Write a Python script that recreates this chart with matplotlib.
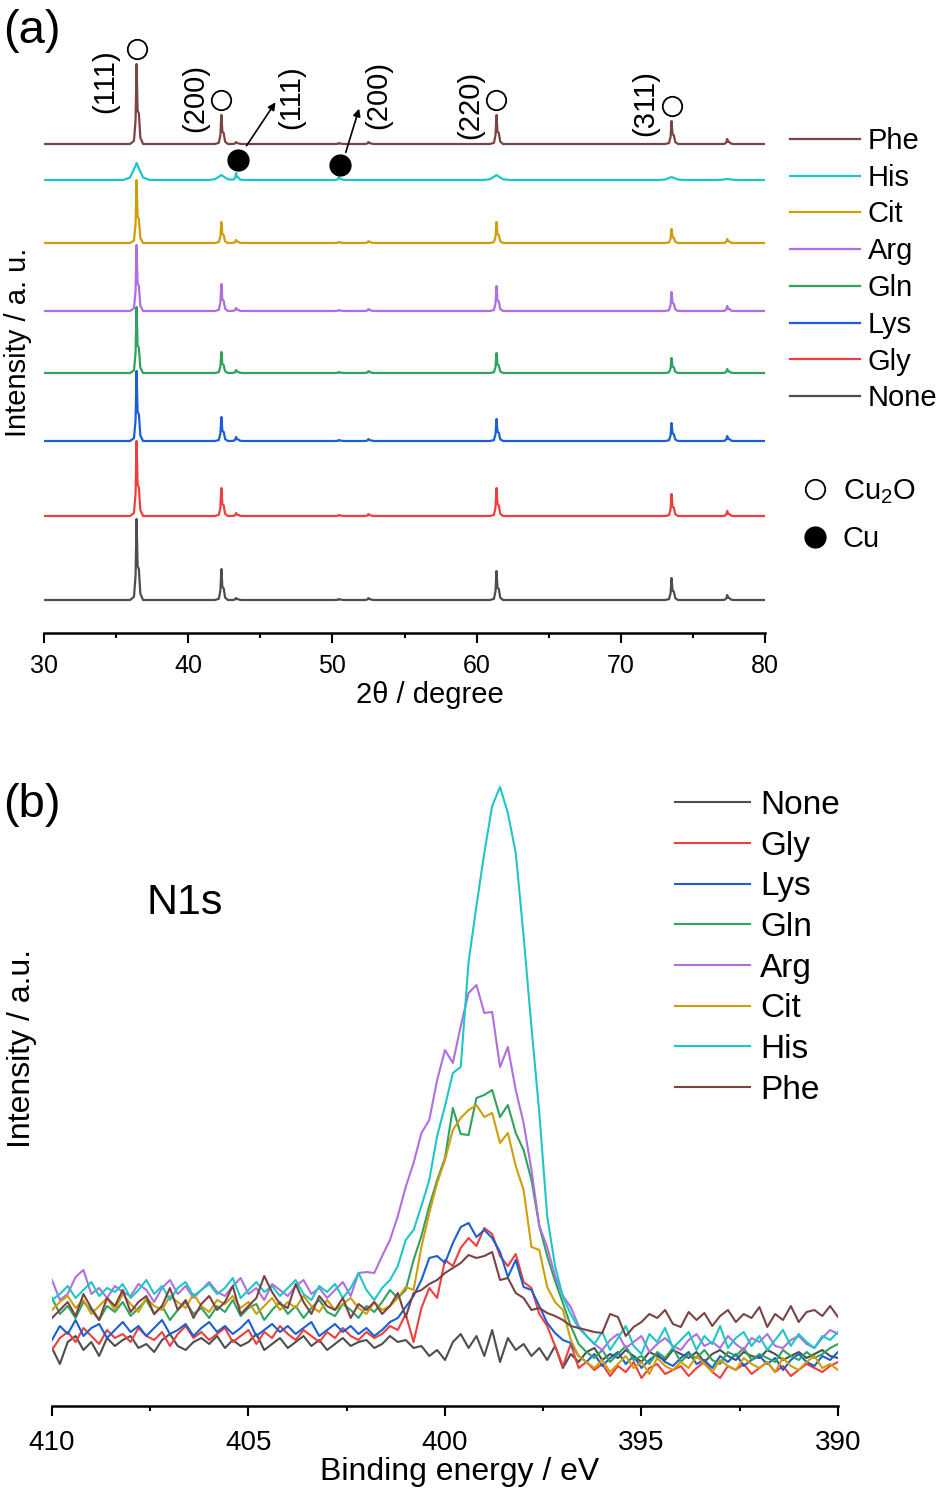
import matplotlib.pyplot as plt
import numpy as np
from matplotlib.lines import Line2D

plt.rcParams['font.family'] = ['Liberation Sans', 'DejaVu Sans']
plt.rcParams['mathtext.default'] = 'regular'

samples = ['None', 'Gly', 'Lys', 'Gln', 'Arg', 'Cit', 'His', 'Phe']
colors = ['#4e4e4e', '#ef3e3e', '#1b5fd4', '#2fa35e', '#b06fe0', '#d09d0b', '#1fc6c6', '#7a4444']

# ---- XRD (a): peak positions and heights ----
two_theta_peaks = [36.42, 42.30, 43.32, 50.45, 52.50, 61.38, 73.52, 77.38]
none_xrd = [81, 31, 2, 1, 2, 29, 22, 5]
gly_xrd = [75, 28, 3, 1, 2, 28, 22, 5]
lys_xrd = [70, 24, 4, 1, 2, 22, 18, 5]
gln_xrd = [66, 21, 3, 1, 2, 20, 15, 4]
arg_xrd = [66, 27, 3, 1, 2, 25, 19, 5]
cit_xrd = [63, 21, 3, 1, 2, 21, 14, 4]
his_xrd = [0, 0, 7, 3, 0, 0, 0, 0]
phe_xrd = [80, 29, 2, 1, 2, 29, 23, 5]
his_xrd_broad = [17, 5, 0, 0, 0, 5, 3, 1]
xrd_offsets = [33, 117, 192, 260, 322, 390, 453, 489]

# peak profiles (sharp with K-alpha2 shoulder, broad for His)
sharp_dx = [-0.45, -0.18, -0.07, 0.0, 0.07, 0.16, 0.26, 0.45]
sharp_frac = [0, 0.04, 0.3, 1, 0.42, 0.38, 0.08, 0]
broad_dx = [-0.9, -0.45, -0.2, 0.0, 0.2, 0.45, 0.9]
broad_frac = [0, 0.15, 0.6, 1, 0.6, 0.15, 0]

cu2o_peaks = [36.42, 42.30, 61.38, 73.52]
cu_marks_x = [43.45, 50.53]
cu_marks_y = [473, 468]
miller = ['(111)', '(200)', '(111)', '(200)', '(220)', '(311)']
miller_x = [34.23, 40.47, 47.13, 53.16, 59.54, 71.68]
miller_y = [552, 535, 536, 538, 528, 530]

# ---- XPS N1s (b): intensity every 0.2 eV from 410 to 390 eV ----
be = np.linspace(410, 390, 101)
none_xps = [58, 42, 64, 70, 56, 64, 50, 68, 60, 66,
            70, 58, 62, 54, 66, 72, 60, 56, 64, 68,
            62, 70, 58, 66, 60, 64, 72, 56, 62, 68,
            58, 64, 70, 60, 66, 56, 62, 68, 60, 64,
            66, 58, 62, 70, 64, 66, 58, 60, 50, 56,
            46, 64, 72, 58, 70, 50, 76, 44, 68, 56,
            62, 50, 58, 46, 60, 38, 52, 44, 54, 58,
            46, 52, 48, 56, 50, 44, 54, 50, 46, 56,
            52, 48, 54, 44, 52, 56, 50, 46, 54, 50,
            48, 56, 52, 46, 50, 54, 48, 52, 56, 50,
            48]
gly_xps = [56, 68, 74, 64, 78, 70, 62, 76, 68, 72,
           64, 78, 70, 66, 74, 60, 72, 80, 68, 74,
           66, 72, 78, 64, 70, 76, 62, 74, 68, 80,
           72, 66, 76, 70, 64, 74, 68, 78, 70, 66,
           74, 68, 72, 80, 76, 92, 64, 98, 118, 108,
           146, 140, 158, 168, 160, 178, 172, 150, 140, 152,
           124, 118, 92, 80, 60, 40, 62, 38, 44, 36,
           42, 30, 40, 34, 44, 28, 38, 42, 32, 36,
           40, 30, 38, 44, 34, 28, 40, 36, 42, 32,
           38, 44, 34, 40, 30, 36, 42, 38, 34, 40,
           44]
lys_xps = [66, 80, 72, 86, 70, 78, 82, 68, 76, 84,
           74, 80, 70, 78, 86, 72, 76, 82, 70, 78,
           84, 74, 80, 72, 78, 86, 70, 76, 82, 74,
           80, 72, 78, 84, 70, 76, 82, 74, 80, 72,
           78, 70, 76, 84, 88, 99, 110, 126, 148, 150,
           143, 163, 179, 183, 169, 176, 168, 154, 129, 146,
           119, 116, 100, 83, 73, 66, 63, 50, 44, 52,
           40, 48, 54, 42, 50, 38, 46, 52, 44, 40,
           48, 54, 42, 46, 38, 50, 44, 52, 40, 46,
           50, 42, 48, 36, 46, 52, 44, 40, 50, 46,
           54]
gln_xps = [108, 92, 100, 88, 104, 96, 86, 100, 94, 104,
           90, 98, 106, 92, 100, 86, 96, 104, 92, 98,
           88, 100, 94, 106, 90, 98, 102, 86, 96, 104,
           92, 100, 88, 98, 106, 94, 90, 102, 96, 88,
           100, 94, 104, 116, 108, 116, 146, 170, 200, 226,
           248, 298, 272, 271, 308, 311, 316, 289, 301, 273,
           256, 226, 180, 150, 125, 103, 80, 62, 54, 48,
           56, 44, 52, 60, 46, 50, 42, 54, 48, 58,
           44, 52, 48, 56, 46, 42, 54, 50, 58, 46,
           52, 48, 44, 56, 50, 46, 54, 48, 52, 58,
           62]
arg_xps = [126, 106, 112, 129, 136, 112, 118, 108, 120, 114,
           110, 122, 116, 104, 118, 126, 112, 120, 108, 116,
           124, 114, 110, 120, 128, 112, 118, 106, 122, 116,
           110, 120, 126, 112, 118, 108, 116, 124, 110, 133,
           134, 133, 150, 166, 190, 219, 243, 273, 286, 326,
           356, 343, 380, 413, 421, 393, 394, 339, 359, 316,
           283, 236, 180, 159, 130, 110, 99, 80, 70, 62,
           56, 66, 72, 58, 64, 70, 54, 62, 68, 60,
           56, 66, 72, 60, 64, 58, 70, 62, 56, 68,
           64, 72, 60, 58, 66, 70, 62, 58, 68, 76,
           72]
cit_xps = [96, 104, 110, 98, 106, 92, 100, 108, 96, 112,
           102, 94, 108, 100, 96, 110, 104, 98, 112, 100,
           94, 106, 102, 110, 98, 104, 92, 100, 108, 96,
           104, 98, 110, 100, 94, 106, 96, 102, 108, 98,
           92, 104, 96, 100, 108, 119, 116, 159, 193, 223,
           246, 276, 288, 296, 301, 289, 293, 263, 273, 240,
           216, 159, 156, 119, 104, 96, 66, 50, 44, 38,
           46, 34, 42, 50, 38, 44, 32, 48, 40, 36,
           44, 38, 50, 42, 34, 46, 40, 36, 48, 42,
           38, 44, 34, 48, 40, 36, 44, 50, 38, 42,
           36]
his_xps = [106, 112, 120, 108, 116, 124, 110, 118, 114, 122,
           108, 116, 126, 112, 120, 106, 118, 124, 110, 116,
           122, 112, 118, 128, 108, 116, 124, 114, 120, 110,
           118, 126, 112, 106, 120, 114, 122, 108, 118, 133,
           116, 106, 118, 126, 140, 166, 176, 200, 226, 270,
           300, 333, 339, 444, 500, 553, 600, 619, 593, 553,
           470, 379, 293, 190, 140, 109, 92, 78, 70, 62,
           74, 56, 68, 80, 60, 52, 72, 64, 78, 58,
           66, 74, 56, 70, 62, 80, 58, 68, 74, 60,
           70, 56, 66, 76, 60, 72, 64, 58, 70, 66,
           74]
phe_xps = [88, 96, 104, 90, 112, 98, 86, 108, 100, 116,
           94, 104, 110, 92, 100, 118, 96, 106, 88, 102,
           110, 96, 104, 120, 92, 100, 108, 130, 114, 102,
           98, 122, 104, 92, 110, 100, 96, 108, 88, 102,
           96, 104, 92, 100, 113, 89, 113, 116, 122, 126,
           133, 138, 143, 151, 148, 150, 154, 126, 128, 113,
           108, 96, 98, 93, 90, 86, 80, 78, 76, 74,
           73, 92, 89, 70, 79, 84, 92, 88, 96, 82,
           79, 94, 86, 93, 80, 90, 96, 84, 92, 88,
           99, 79, 92, 86, 100, 84, 94, 96, 90, 100,
           89]

xrd_sharp = [none_xrd, gly_xrd, lys_xrd, gln_xrd, arg_xrd, cit_xrd, his_xrd, phe_xrd]
xps_all = [none_xps, gly_xps, lys_xps, gln_xps, arg_xps, cit_xps, his_xps, phe_xps]


def xrd_trace(sharp, broad):
    parts = []
    for pos, h in zip(two_theta_peaks, sharp):
        if h:
            parts.append((pos + np.array(sharp_dx), h * np.array(sharp_frac)))
    for pos, h in zip(two_theta_peaks, broad):
        if h:
            parts.append((pos + np.array(broad_dx), h * np.array(broad_frac)))
    xs = np.unique(np.concatenate([[30.0, 80.0]] + [p[0] for p in parts]))
    ys = np.zeros_like(xs)
    for px, py in parts:
        ys += np.interp(xs, px, py, left=0, right=0)
    return xs, ys


W, H = 946, 1492
fig = plt.figure(figsize=(W / 100, H / 100), dpi=100)


def style_axis(ax, pad):
    for s in ['top', 'right', 'left']:
        ax.spines[s].set_visible(False)
    ax.spines['bottom'].set_linewidth(1.8)
    ax.set_yticks([])
    ax.tick_params(axis='x', which='major', direction='out', length=7, width=1.5, pad=pad)
    ax.tick_params(axis='x', which='minor', direction='out', length=3.5, width=1.5)


# ---------------- panel (a) ----------------
ax1 = fig.add_axes([44 / W, 1 - 633 / H, 721 / W, 603 / H])
lines_a = []
for i, name in enumerate(samples):
    broad = his_xrd_broad if name == 'His' else [0] * len(two_theta_peaks)
    xs, ys = xrd_trace(xrd_sharp[i], broad)
    ln, = ax1.plot(xs, ys + xrd_offsets[i], color=colors[i], lw=1.6, label=name)
    lines_a.append(ln)

phe_i = samples.index('Phe')
for pos in cu2o_peaks:
    h = phe_xrd[two_theta_peaks.index(pos)]
    ax1.plot(pos, xrd_offsets[phe_i] + h + 15, 'o', ms=14, mfc='white', mec='black', mew=1.3)
ax1.plot(cu_marks_x, cu_marks_y, 'o', ms=15, color='black', ls='none')
ax1.annotate('', xy=(46.16, 533), xytext=(43.94, 485),
             arrowprops=dict(arrowstyle='-|>', color='black', lw=1.2, mutation_scale=11))
ax1.annotate('', xy=(51.91, 527), xytext=(50.87, 478),
             arrowprops=dict(arrowstyle='-|>', color='black', lw=1.2, mutation_scale=11))
for t, x, y in zip(miller, miller_x, miller_y):
    ax1.text(x, y, t, rotation=90, ha='center', va='center', fontsize=21)

ax1.set_xlim(30, 80)
ax1.set_ylim(0, 603)
ax1.set_xticks([30, 40, 50, 60, 70, 80])
ax1.set_xticks([35, 45, 55, 65, 75], minor=True)
style_axis(ax1, 8)
ax1.tick_params(axis='x', labelsize=18)

leg1 = ax1.legend(handles=lines_a[::-1], loc='upper left', bbox_to_anchor=(790 / W, 1 - 127 / H),
                  bbox_transform=fig.transFigure, frameon=False, fontsize=21,
                  handlelength=2.4, handletextpad=0.27, labelspacing=0.3,
                  borderpad=0, borderaxespad=0)
ax1.add_artist(leg1)
marker_handles = [Line2D([], [], marker='o', ls='none', ms=14, mfc='white', mec='black', mew=1.3),
                  Line2D([], [], marker='o', ls='none', ms=15, color='black')]
ax1.legend(handles=marker_handles, labels=['Cu$_2$O', 'Cu'], loc='upper left',
           bbox_to_anchor=(800 / W, 1 - 477 / H), bbox_transform=fig.transFigure,
           frameon=False, fontsize=21, handlelength=1.0, handletextpad=0.47,
           labelspacing=0.67, borderpad=0, borderaxespad=0)

fig.text(430 / W, 1 - 695 / H, '2θ / degree', ha='center', va='center', fontsize=21)
fig.text(18 / W, 1 - 342 / H, 'Intensity / a. u.', rotation=90, ha='center', va='center', fontsize=21)
fig.text(3 / W, 1 - 31 / H, '(a)', ha='left', va='center', fontsize=34)

# ---------------- panel (b) ----------------
ax2 = fig.add_axes([52 / W, 1 - 1406 / H, 786 / W, 636 / H])
for i, name in enumerate(samples):
    ax2.plot(be, xps_all[i], color=colors[i], lw=1.5, label=name)
ax2.set_xlim(410, 390)
ax2.set_ylim(0, 636)
ax2.set_xticks([410, 405, 400, 395, 390])
ax2.set_xticks([407.5, 402.5, 397.5, 392.5], minor=True)
style_axis(ax2, 10)
ax2.tick_params(axis='x', labelsize=20)
ax2.legend(loc='upper left', bbox_to_anchor=(675 / W, 1 - 790 / H), bbox_transform=fig.transFigure,
           frameon=False, fontsize=24, handlelength=2.25, handletextpad=0.3, labelspacing=0.29,
           borderpad=0, borderaxespad=0)

fig.text(185 / W, 1 - 903 / H, 'N1s', ha='center', va='center', fontsize=31)
fig.text(460 / W, 1 - 1472 / H, 'Binding energy / eV', ha='center', va='center', fontsize=23)
fig.text(22 / W, 1 - 1049 / H, 'Intensity / a.u.', rotation=90, ha='center', va='center', fontsize=23)
fig.text(3 / W, 1 - 805 / H, '(b)', ha='left', va='center', fontsize=34)

fig.savefig('out.png', dpi=100)
